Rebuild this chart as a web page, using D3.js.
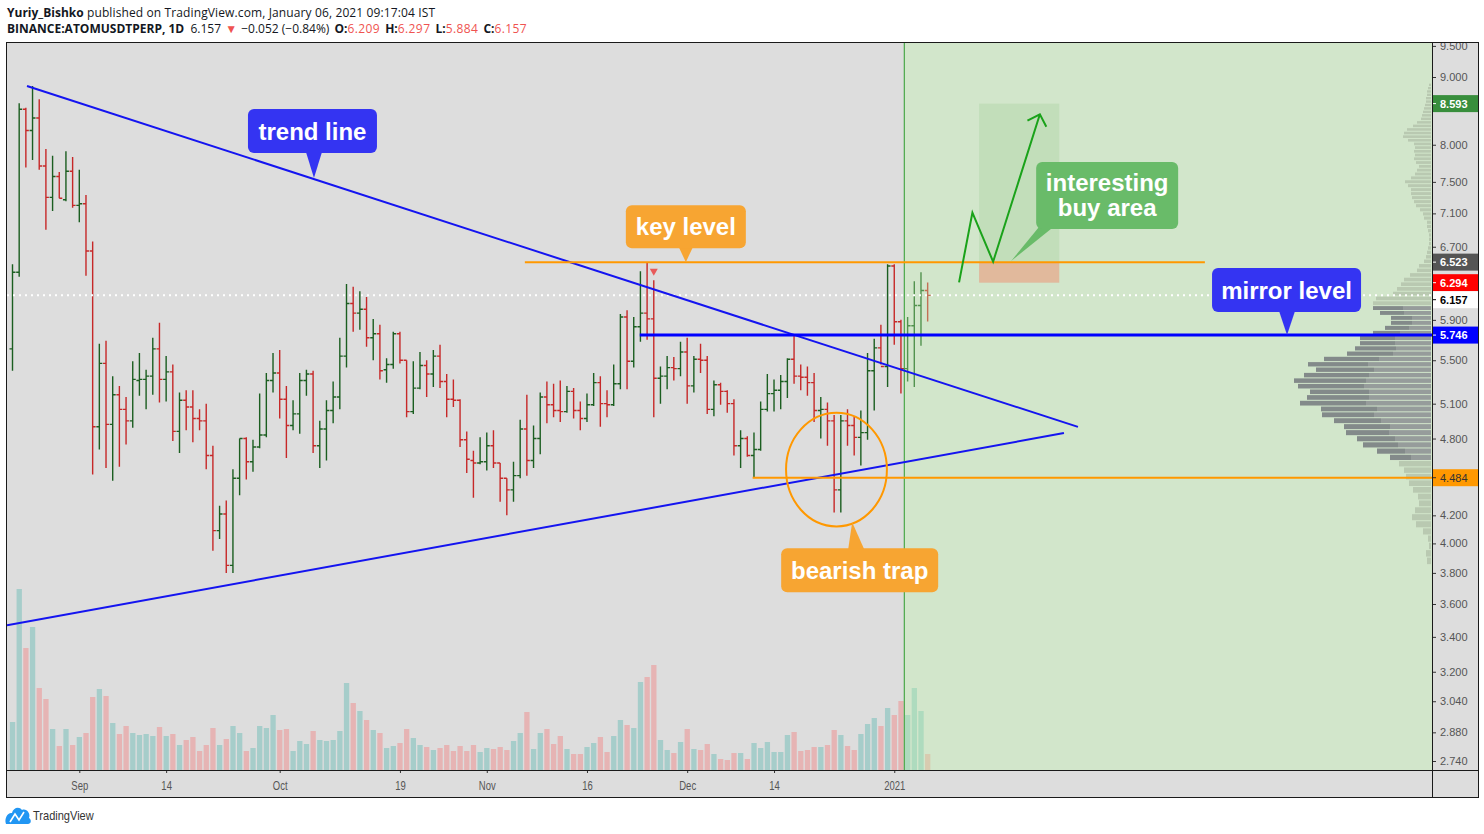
<!DOCTYPE html>
<html>
<head>
<meta charset="utf-8">
<script src="https://cdn.jsdelivr.net/npm/d3@7/dist/d3.min.js"></script>
<style>
html,body{margin:0;padding:0;background:#fff;}
svg{display:block;}
</style>
</head>
<body>
<svg id="chart" width="1484" height="834"></svg>
<script>
// ================= DATA =================
const symbol = "BINANCE:ATOMUSDTPERP, 1D";
const author = "Yuriy_Bishko";
const published = " published on TradingView.com, January 06, 2021 09:17:04 IST";

// daily bars from 2020-08-22 to 2021-01-06
const opens = [5.61,6.41,8.51,8.20,8.38,7.71,7.30,7.57,7.27,7.64,
7.20,7.22,6.65,4.90,5.47,4.92,5.18,5.05,4.95,5.31,
5.32,5.35,5.61,5.32,5.39,4.86,5.13,5.07,4.97,4.95,
4.66,4.09,4.21,3.85,4.48,4.80,4.61,4.73,4.83,5.31,
5.38,5.14,4.91,5.01,5.31,5.37,4.74,4.88,5.04,5.16,
5.54,6.07,5.97,6.01,5.72,5.76,5.41,5.46,5.76,5.50,
5.03,5.24,5.45,5.37,5.54,5.30,5.14,5.13,4.79,4.62,
4.60,4.61,4.74,4.60,4.48,4.39,4.50,4.88,4.62,4.80,
5.16,5.09,5.04,5.03,5.21,5.04,4.97,5.09,5.29,5.10,
5.09,5.28,5.93,5.49,5.83,5.97,5.91,5.33,5.35,5.43,
5.42,5.58,5.26,5.51,5.50,5.05,5.27,5.21,5.10,4.74,
4.80,4.66,4.71,5.05,5.19,5.22,5.30,5.51,5.35,5.34,
5.29,5.04,5.05,4.95,4.39,4.95,4.91,4.81,4.85,5.40,
5.62,5.44,6.48,5.88,5.42,5.84,6.05,6.209];
const highs = [6.50,8.60,8.53,8.86,8.66,7.94,7.85,7.63,7.91,7.83,
7.66,7.33,6.76,5.66,5.69,5.35,5.26,5.16,5.49,5.57,
5.41,5.72,5.87,5.54,5.46,5.20,5.22,5.22,5.05,5.10,
4.74,4.27,4.31,4.55,4.80,4.81,4.79,5.19,5.38,5.57,
5.60,5.26,5.13,5.38,5.41,5.40,4.95,5.13,5.30,5.72,
6.28,6.25,6.20,6.14,5.91,5.85,5.52,5.78,5.78,5.50,
5.49,5.58,5.50,5.60,5.65,5.37,5.32,5.14,4.86,4.70,
4.81,4.85,4.87,4.60,4.48,4.61,4.96,5.18,4.91,5.20,
5.30,5.28,5.31,5.26,5.24,5.12,5.19,5.38,5.35,5.22,
5.46,5.96,6.00,5.93,6.42,6.52,6.32,5.44,5.54,5.53,
5.68,5.72,5.54,5.66,5.54,5.31,5.29,5.22,5.14,4.87,
4.82,4.85,5.12,5.37,5.32,5.36,5.52,5.74,5.46,5.44,
5.38,5.16,5.11,5.00,5.00,5.05,4.99,5.04,5.57,5.71,
5.85,6.50,6.50,5.90,5.93,6.31,6.41,6.297];
const lows = [5.40,6.36,7.69,7.79,7.66,6.90,7.13,7.29,7.25,7.17,
6.99,6.37,4.51,4.71,4.56,4.46,4.57,4.75,4.89,5.17,
5.05,5.18,5.11,5.12,4.78,4.68,4.87,4.77,4.87,4.55,
3.95,4.03,3.80,3.80,4.35,4.47,4.53,4.72,4.81,5.20,
4.97,4.64,4.87,4.84,5.17,4.68,4.56,4.62,4.93,5.05,
5.43,5.78,5.80,5.63,5.50,5.32,5.29,5.42,5.47,4.98,
5.01,5.23,5.16,5.25,5.24,4.98,5.07,4.73,4.52,4.33,
4.59,4.54,4.56,4.30,4.20,4.30,4.48,4.50,4.56,4.67,
4.93,4.98,4.94,5.02,4.97,4.87,4.94,5.08,4.90,4.98,
5.08,5.23,5.23,5.43,5.68,5.70,4.98,5.10,5.23,5.31,
5.35,5.10,5.20,5.38,5.01,4.99,5.09,5.02,4.66,4.56,
4.65,4.49,4.70,5.03,5.03,5.05,5.15,5.28,5.22,5.17,
4.94,4.80,4.74,4.22,4.22,4.74,4.66,4.58,4.79,5.04,
5.46,5.25,5.65,5.19,5.30,5.25,5.64,5.884];
const closes = [6.41,8.51,8.20,8.38,7.71,7.30,7.57,7.29,7.64,7.20,
7.22,6.65,4.90,5.47,4.92,5.18,5.05,4.95,5.32,5.32,
5.35,5.61,5.32,5.39,4.86,5.13,5.07,4.97,4.95,4.66,
4.09,4.21,3.85,4.48,4.80,4.61,4.73,4.83,5.31,5.38,
5.14,4.91,5.01,5.31,5.37,4.74,4.88,5.04,5.16,5.54,
6.07,5.97,6.01,5.72,5.76,5.40,5.46,5.76,5.50,5.03,
5.24,5.45,5.37,5.54,5.30,5.14,5.13,4.79,4.63,4.60,
4.61,4.74,4.60,4.48,4.39,4.50,4.88,4.62,4.80,5.16,
5.09,5.04,5.03,5.21,5.04,4.97,5.09,5.29,5.10,5.09,
5.28,5.93,5.49,5.83,5.97,5.91,5.33,5.35,5.43,5.42,
5.58,5.26,5.51,5.50,5.05,5.27,5.21,5.10,4.74,4.80,
4.66,4.71,5.05,5.19,5.22,5.30,5.51,5.35,5.34,5.29,
5.04,5.05,4.95,4.39,4.95,4.91,4.81,4.85,5.40,5.62,
5.44,6.48,5.88,5.42,5.84,6.05,6.209,6.157];
const volumes = [4.8,18.1,12.2,14.3,8.2,7.1,4.1,2.4,4.1,2.5,
3.3,3.7,7.3,8.1,7.4,4.7,3.6,4.4,3.7,3.5,
3.6,3.4,4.3,3.4,3.6,2.5,3.0,3.3,1.9,2.5,
4.2,2.5,3.1,4.4,3.7,1.9,2.2,4.4,4.2,5.5,
4.0,4.1,1.9,2.9,2.6,3.9,3.0,2.9,3.0,3.9,
8.7,6.7,5.9,5.0,4.0,3.7,2.2,2.4,2.7,4.1,
3.2,2.5,2.3,2.0,2.2,2.5,1.9,2.4,1.9,2.5,
1.8,2.2,2.1,2.3,2.0,2.9,3.7,5.8,2.1,3.7,
4.1,2.6,3.4,2.1,1.6,1.6,2.3,2.7,3.3,1.8,
3.4,5.0,4.5,4.2,8.8,9.3,10.5,3.0,2.0,1.7,
2.8,4.1,2.1,2.0,2.6,1.6,1.1,1.0,1.7,1.7,
1.1,2.7,2.2,2.8,1.8,1.8,3.5,3.8,1.9,2.0,
2.3,2.3,2.5,4.0,3.5,2.4,2.0,3.6,4.6,5.2,
4.4,6.2,5.5,6.9,5.5,8.2,5.9,1.6];

// time axis (bar index of each labelled day)
const timeTickIndex = [10, 23, 40, 58, 71, 86, 101, 114, 132];
const timeTickLabels = ["Sep", "14", "Oct", "19", "Nov", "16", "Dec", "14", "2021"];
// price axis
const priceTicks = [9.5, 9.0, 8.0, 7.5, 7.1, 6.7, 5.9, 5.5, 5.1, 4.8, 4.2, 4.0, 3.8, 3.6, 3.4, 3.2, 3.04, 2.88, 2.74];
const levelPrices = [8.593, 6.523, 6.294, 6.157, 5.746, 4.484];

// visible range volume profile (rows of equal price height)
const profileLow = 3.855, profileStep = 0.051;
const profileTotal = [4,5,2,3,8,15,19,16,12,13,
18,22,25,27,32,41,54,68,74,85,
87,97,109,110,131,124,121,133,137,127,
115,123,107,84,76,71,71,58,46,40,
40,51,58,58,55,38,34,30,27,21,
14,12,7,5,4,3,2,2,2,3,
4,4,7,8,11,15,17,19,20,20,
23,26,20,16,14,12,15,17,16,17,
16,17,23,28,27,24,18,14,10,9,
8,7,6,5,5,4,4,3,2];
const valueAreaFirst = 15;
const profileUpVA = [21,28,35,38,43,46,47,52,56,66,62,59,66,72,65,58,60,55,46,41,35,35,27,24,21,21,24,30];

// drawings (bar index, price)
const upperTrend = [[2.17, 8.86], [159.5, 4.898]];
const lowerTrend = [[-0.82, 3.47], [157.4, 4.846]];
const keyLevel = {price: 6.523, from: 76.7, to: 178.5};
const mirrorLevel = {price: 5.746, from: 93.9};
const supportLevel = {price: 4.484, from: 110.8};
const sessionLineIndex = 133.5;
const buyArea = {from: 144.7, to: 156.7, top: 8.593, entry: 6.523, stop: 6.294};
const forecastPath = [[141.7, 6.298], [143.7, 7.11], [146.8, 6.528], [153.8, 8.435]];
const trapEllipse = {left: 115.8, right: 130.9, top: 5.02, bottom: 4.12};
const markerIndex = 96;
const calloutTexts = [["trend line"], ["key level"], ["mirror level"], ["bearish trap"], ["interesting", "buy area"]];
const calloutTips = [[45.13, 7.55], [100.8, 6.523], [190.8, 5.746], [125.7, 4.15], [149.5, 6.536]];

// ================= STYLE / LAYOUT =================
const upColor = "#1b5e20", downColor = "#c62828";
const volUp = "#a6cdca", volDown = "#e6b4b4";
const calloutStyle = [
  {dx: -66, dy: -69, w: 129, h: 44, fill: "#3434f2", side: "bottom", b0: -8, b1: 8},
  {dx: -60, dy: -57, w: 120, h: 43, fill: "#f7a532", side: "bottom", b0: -7, b1: 7},
  {dx: -75, dy: -67, w: 149, h: 44, fill: "#3434f2", side: "bottom", b0: -8, b1: 8},
  {dx: -71, dy: 26, w: 157, h: 44, fill: "#f7a532", side: "top", b0: -4, b1: 12},
  {dx: 25, dy: -99, w: 142, h: 67, fill: "#69bb69", side: "bottom", b0: 27, b1: 41}
];
const levelStyle = [
  {bg: "#388e3c", fg: "#ffffff"}, {bg: "#555555", fg: "#ffffff"}, {bg: "#ff0000", fg: "#ffffff"},
  {bg: "#ffffff", fg: "#000000"}, {bg: "#0000ff", fg: "#ffffff"}, {bg: "#ff9800", fg: "#333333"}
];

const L = 7, T = 43, R = 1432, B = 770, FR = 1478, FB = 797;
const N = opens.length;

const svg = d3.select("#chart");
const x = d3.scaleLinear().domain([0, N - 1]).range([12.5, 12.5 + 6.68 * (N - 1)]);
const y = d3.scaleLog().domain([9, 2.74]).range([77, 761]);
const yv = d3.scaleLinear().domain([0, d3.max(volumes)]).range([B, 589]);
const px = d3.scaleLinear().domain([0, d3.max(profileTotal)]).range([0, 137]);

const defs = svg.append("defs");
defs.append("clipPath").attr("id", "plotClip").append("rect").attr("x", L).attr("y", T).attr("width", R - L).attr("height", B - T);
defs.append("clipPath").attr("id", "axisClip").append("rect").attr("x", R).attr("y", T).attr("width", FR - R).attr("height", B - T);

// background
svg.append("rect").attr("x", L).attr("y", T).attr("width", FR - L).attr("height", FB - T).attr("fill", "#dddddd");

const plot = svg.append("g").attr("clip-path", "url(#plotClip)");

// volume
plot.append("g").selectAll("rect").data(volumes).join("rect")
  .attr("x", (d, i) => x(i) - 2.6).attr("width", 5.3)
  .attr("y", d => yv(d)).attr("height", d => B - yv(d))
  .attr("fill", (d, i) => closes[i] >= opens[i] ? volUp : volDown);

// OHLC bars
plot.append("g").attr("fill", "none").attr("stroke-width", 1.4)
  .selectAll("path").data(d3.range(N)).join("path")
  .attr("stroke", i => closes[i] >= opens[i] ? upColor : downColor)
  .attr("d", i => {
    const cx = x(i);
    return `M${cx},${y(highs[i])}V${y(lows[i])}M${cx - 3},${y(opens[i])}H${cx}M${cx},${y(closes[i])}H${cx + 3}`;
  });

// green future zone
const xs = x(sessionLineIndex);
plot.append("rect").attr("x", xs).attr("y", T).attr("width", R - xs).attr("height", B - T)
  .attr("fill", "rgb(190,245,170)").attr("fill-opacity", 0.35);
plot.append("line").attr("x1", xs).attr("x2", xs).attr("y1", T).attr("y2", B)
  .attr("stroke", "#2e9b2e").attr("stroke-width", 1);

// buy area box
plot.append("rect").attr("x", x(buyArea.from)).attr("width", x(buyArea.to) - x(buyArea.from))
  .attr("y", y(buyArea.top)).attr("height", y(buyArea.entry) - y(buyArea.top))
  .attr("fill", "rgb(120,190,110)").attr("fill-opacity", 0.18);
plot.append("rect").attr("x", x(buyArea.from)).attr("width", x(buyArea.to) - x(buyArea.from))
  .attr("y", y(buyArea.entry)).attr("height", y(buyArea.stop) - y(buyArea.entry))
  .attr("fill", "rgb(240,140,110)").attr("fill-opacity", 0.5);

// volume profile
const prof = plot.append("g");
profileTotal.forEach((v, k) => {
  const lo = profileLow + k * profileStep, hi = lo + profileStep;
  const y0 = y(hi) + 0.5, h = Math.max(0.8, y(lo) - y(hi) - 1);
  const vaIdx = k - valueAreaFirst;
  if (vaIdx >= 0 && vaIdx < profileUpVA.length) {
    const up = profileUpVA[vaIdx];
    prof.append("rect").attr("x", R - 1 - px(v)).attr("y", y0).attr("width", px(up)).attr("height", h).attr("fill", "#838a8a");
    prof.append("rect").attr("x", R - 1 - px(v - up)).attr("y", y0).attr("width", px(v - up)).attr("height", h).attr("fill", "#969c9b");
  } else {
    prof.append("rect").attr("x", R - 1 - px(v)).attr("y", y0).attr("width", px(v)).attr("height", h).attr("fill", "#b9c9b1");
  }
});

// last price dotted line
plot.append("line").attr("x1", L).attr("x2", R).attr("y1", y(closes[N - 1])).attr("y2", y(closes[N - 1]))
  .attr("stroke", "#ffffff").attr("stroke-width", 2).attr("stroke-dasharray", "2,4");

// trend lines
[upperTrend, lowerTrend].forEach(seg => {
  plot.append("line").attr("x1", x(seg[0][0])).attr("y1", y(seg[0][1]))
    .attr("x2", x(seg[1][0])).attr("y2", y(seg[1][1]))
    .attr("stroke", "#1414f0").attr("stroke-width", 2);
});
// levels
plot.append("line").attr("x1", x(keyLevel.from)).attr("x2", x(keyLevel.to))
  .attr("y1", y(keyLevel.price)).attr("y2", y(keyLevel.price)).attr("stroke", "#ff9800").attr("stroke-width", 2);
plot.append("line").attr("x1", x(supportLevel.from)).attr("x2", R)
  .attr("y1", y(supportLevel.price)).attr("y2", y(supportLevel.price)).attr("stroke", "#ff9800").attr("stroke-width", 2);
plot.append("line").attr("x1", x(mirrorLevel.from)).attr("x2", R)
  .attr("y1", y(mirrorLevel.price)).attr("y2", y(mirrorLevel.price)).attr("stroke", "#0000ff").attr("stroke-width", 3);

// ellipse
const ex0 = x(trapEllipse.left), ex1 = x(trapEllipse.right), ey0 = y(trapEllipse.top), ey1 = y(trapEllipse.bottom);
plot.append("ellipse").attr("cx", (ex0 + ex1) / 2).attr("cy", (ey0 + ey1) / 2)
  .attr("rx", (ex1 - ex0) / 2).attr("ry", (ey1 - ey0) / 2)
  .attr("fill", "none").attr("stroke", "#ff9800").attr("stroke-width", 2);

// marker
const mx = x(markerIndex), my = y(highs[markerIndex]) - 8;
plot.append("path").attr("d", `M${mx - 4},${my - 3.5}H${mx + 4}L${mx},${my + 3.5}Z`).attr("fill", "#e85a5a");

// forecast arrow
const fp = forecastPath.map(p => [x(p[0]), y(p[1])]);
plot.append("path").attr("d", d3.line()(fp)).attr("fill", "none").attr("stroke", "#1aa21a").attr("stroke-width", 2);
{
  const a = fp[fp.length - 1], b = fp[fp.length - 2];
  const ang = Math.atan2(b[1] - a[1], b[0] - a[0]);
  const hl = 14, spread = Math.PI / 4;
  const p1 = [a[0] + hl * Math.cos(ang + spread), a[1] + hl * Math.sin(ang + spread)];
  const p2 = [a[0] + hl * Math.cos(ang - spread), a[1] + hl * Math.sin(ang - spread)];
  plot.append("path").attr("d", `M${p1[0]},${p1[1]}L${a[0]},${a[1]}L${p2[0]},${p2[1]}`)
    .attr("fill", "none").attr("stroke", "#1aa21a").attr("stroke-width", 2);
}

// callouts
calloutTexts.forEach((lines, i) => {
  const st = calloutStyle[i];
  const tx = x(calloutTips[i][0]), ty = y(calloutTips[i][1]);
  const bx = tx + st.dx, by = ty + st.dy;
  const g = plot.append("g");
  const edge = st.side === "bottom" ? by + st.h - 1 : by + 1;
  g.append("path").attr("d", `M${tx + st.b0},${edge}L${tx},${ty}L${tx + st.b1},${edge}Z`).attr("fill", st.fill);
  g.append("rect").attr("x", bx).attr("y", by).attr("width", st.w).attr("height", st.h)
    .attr("rx", 6).attr("fill", st.fill);
  const lh = 25;
  lines.forEach((t, j) => {
    g.append("text").attr("x", bx + st.w / 2).attr("y", by + st.h / 2 + (j - (lines.length - 1) / 2) * lh)
      .attr("text-anchor", "middle").attr("dominant-baseline", "central")
      .style("font-family", "'Liberation Sans', Arial, sans-serif").style("font-weight", "bold")
      .style("font-size", "24px").attr("fill", "#ffffff").text(t);
  });
});

// ================= AXES =================
const yAxisG = svg.append("g").attr("clip-path", "url(#axisClip)").append("g").attr("transform", `translate(${R},0)`)
  .call(d3.axisRight(y).tickValues(priceTicks).tickFormat(d3.format(".3f")).tickSize(4).tickPadding(4));
yAxisG.select(".domain").remove();
yAxisG.selectAll("line").attr("stroke", "#333");
yAxisG.selectAll("text").attr("fill", "#555").style("font-family", "'Liberation Sans', Arial, sans-serif").style("font-size", "11px");

// level labels on axis (stacked downward when they would overlap)
const lv = svg.append("g");
const labH = 17;
let prevY = -Infinity;
levelPrices.map((p, i) => ({p, i, yy: y(p)})).sort((a, b) => a.yy - b.yy).forEach(o => {
  const ly = Math.max(o.yy, prevY + labH);
  prevY = ly;
  const s = levelStyle[o.i];
  lv.append("rect").attr("x", R + 0.5).attr("y", ly - labH / 2).attr("width", FR - R - 0.5).attr("height", labH).attr("fill", s.bg);
  lv.append("line").attr("x1", R).attr("x2", R + 4).attr("y1", ly).attr("y2", ly).attr("stroke", s.fg);
  lv.append("text").attr("x", R + 8).attr("y", ly).attr("dominant-baseline", "central")
    .style("font-family", "'Liberation Sans', Arial, sans-serif").style("font-size", "11px")
    .style("font-weight", o.i === 5 ? "normal" : "bold").attr("fill", s.fg).text(d3.format(".3f")(o.p));
});

const xAxisG = svg.append("g").attr("transform", `translate(0,${B})`)
  .call(d3.axisBottom(x).tickValues(timeTickIndex).tickFormat((d, i) => timeTickLabels[i]).tickSize(3).tickPadding(8));
xAxisG.select(".domain").remove();
xAxisG.selectAll("line").attr("stroke", "#333");
xAxisG.selectAll("text").attr("fill", "#555").attr("transform", "scale(0.76,1)")
  .style("font-family", "'Liberation Sans', Arial, sans-serif").style("font-size", "12.5px");

// frame lines
const fr = svg.append("g").attr("stroke", "#1a1a1a").attr("stroke-width", 1).attr("fill", "none");
fr.append("rect").attr("x", L - 0.5).attr("y", T - 0.5).attr("width", FR - L + 1).attr("height", FB - T + 1);
fr.append("line").attr("x1", R + 0.5).attr("x2", R + 0.5).attr("y1", T).attr("y2", FB);
fr.append("line").attr("x1", L).attr("x2", FR).attr("y1", B + 0.5).attr("y2", B + 0.5);

// ================= HEADER =================
const hf = "'Open Sans', 'Liberation Sans', sans-serif";
const red = "#ef5350";
const f3 = d3.format(".3f");
const lastC = closes[N - 1], prevC = closes[N - 2];
const chg = lastC - prevC;
const h1 = svg.append("text").attr("x", 7).attr("y", 17).style("font-family", hf).style("font-size", "12px").attr("fill", "#131722");
h1.append("tspan").style("font-weight", "bold").text(author);
h1.append("tspan").style("letter-spacing", "0.12px").text(published);
const h2 = svg.append("text").attr("x", 7).attr("y", 33).style("font-family", hf).style("font-size", "12px").attr("fill", "#131722");
h2.append("tspan").style("font-weight", "bold").text(symbol);
h2.append("tspan").text("\u00a0\u00a0" + f3(lastC) + " ");
h2.append("tspan").attr("fill", red).attr("dx", 1).text("▼");
h2.append("tspan").attr("dx", 1).text(" " + f3(chg) + " (" + d3.format(".2f")(chg / prevC * 100) + "%) ");
[["O:", opens[N - 1]], ["H:", highs[N - 1]], ["L:", lows[N - 1]], ["C:", lastC]].forEach((p, i) => {
  h2.append("tspan").attr("dx", 2).style("font-weight", "bold").text((i ? " " : "") + p[0]);
  h2.append("tspan").attr("fill", red).style("letter-spacing", "0.4px").text(f3(p[1]));
});

// ================= LOGO =================
const logo = svg.append("g");
logo.append("path").attr("d", "M6,824 C4,818 8,812 12,813 C13,808 19,806 22,810 C26,808 31,813 29,818 C32,820 31,824 28,824 Z").attr("fill", "#2196f3");
logo.append("path").attr("d", "M10,822 L15,814 L19,820 L24,812").attr("fill", "none").attr("stroke", "#ffffff").attr("stroke-width", 1.6);
logo.append("text").attr("x", 33).attr("y", 820).style("font-family", "'Liberation Sans', Arial, sans-serif")
  .attr("transform", "translate(33,0) scale(0.85,1) translate(-33,0)")
  .style("font-size", "13px").attr("fill", "#333").text("TradingView");
</script>
</body>
</html>
